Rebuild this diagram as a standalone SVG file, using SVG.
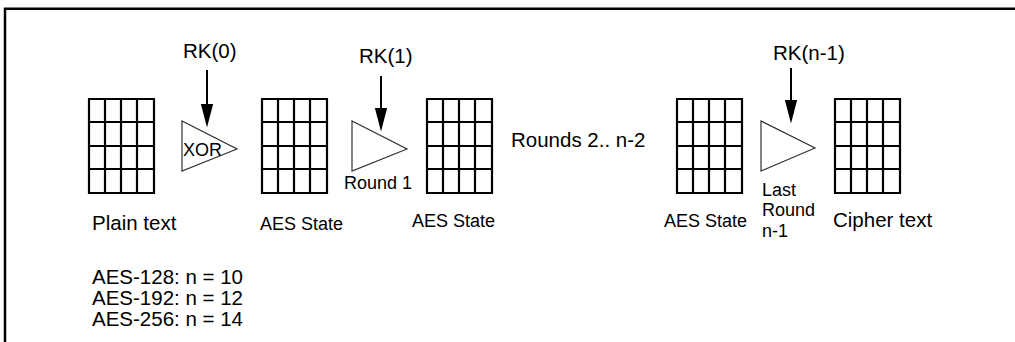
<svg xmlns="http://www.w3.org/2000/svg" xmlns:xlink="http://www.w3.org/1999/xlink" width="1015" height="342" viewBox="0 0 1015 342">
<style>
text{font-family:"Liberation Sans",Arial,sans-serif;fill:#000}
.big{font-size:20.5px}
.small{font-size:18px}
.grid{fill:none;stroke:#000;stroke-width:2.2}
.tri{fill:#fff;stroke:#333;stroke-width:1.2;stroke-linejoin:miter}
.arrow{fill:none;stroke:#000;stroke-width:2}
.frame{fill:none;stroke:#000;stroke-width:2.5}
</style>
<defs>
<marker id="ah" markerUnits="userSpaceOnUse" markerWidth="24" markerHeight="13" refX="11" refY="6" orient="auto" viewBox="0 0 23 12">
<path d="M0,0 L23,6 L0,12 Z" fill="#000"/>
</marker>
<g id="grid">
<path class="grid" d="M0,0 H65 V94 H0 Z M16,0 V94 M32,0 V94 M48,0 V94 M0,23 H65 M0,47 H65 M0,70 H65"/>
</g>
</defs>
<rect width="1015" height="342" fill="#fff"/>
<path class="frame" d="M5,342 V8.7 H1015"/>

<g id="plaintext">
<use xlink:href="#grid" x="89" y="99"/>
<text class="big" x="92" y="230">Plain text</text>
</g>
<g id="xor">
<polygon class="tri" points="182,121 182,171 237,149"/>
<text class="small" x="183" y="155.5">XOR</text>
</g>
<g id="state1">
<use xlink:href="#grid" x="262" y="99"/>
<text class="small" x="260" y="230">AES State</text>
</g>
<g id="round1">
<polygon class="tri" points="352,121 352,171 407,149"/>
<text class="small" x="344" y="189">Round 1</text>
</g>
<g id="state2">
<use xlink:href="#grid" x="427" y="99"/>
<text class="small" x="412" y="227">AES State</text>
</g>
<g id="rounds">
<text class="big" x="511" y="147">Rounds 2.. n-2</text>
</g>
<g id="state3">
<use xlink:href="#grid" x="677" y="99"/>
<text class="small" x="664" y="227">AES State</text>
</g>
<g id="lastround">
<polygon class="tri" points="761,121 761,171 815,148"/>
<text class="small" x="762" y="196">Last</text>
<text class="small" x="762" y="216">Round</text>
<text class="small" x="762" y="237">n-1</text>
</g>
<g id="ciphertext">
<use xlink:href="#grid" x="835" y="99"/>
<text class="big" x="833" y="227">Cipher text</text>
</g>
<g id="rk0">
<text class="big" x="183" y="58">RK(0)</text>
</g>
<g id="rk1">
<text class="big" x="359" y="63">RK(1)</text>
</g>
<g id="rkn1">
<text class="big" x="773" y="60">RK(n-1)</text>
</g>
<g id="connectors">
<line class="arrow" x1="207" y1="70" x2="207" y2="115" marker-end="url(#ah)"/>
<line class="arrow" x1="381" y1="76" x2="381" y2="119" marker-end="url(#ah)"/>
<line class="arrow" x1="791" y1="68" x2="791" y2="111" marker-end="url(#ah)"/>
</g>
<g id="legend">
<text class="big" x="92" y="284">AES-128: n = 10</text>
<text class="big" x="92" y="305">AES-192: n = 12</text>
<text class="big" x="92" y="326">AES-256: n = 14</text>
</g>
</svg>
